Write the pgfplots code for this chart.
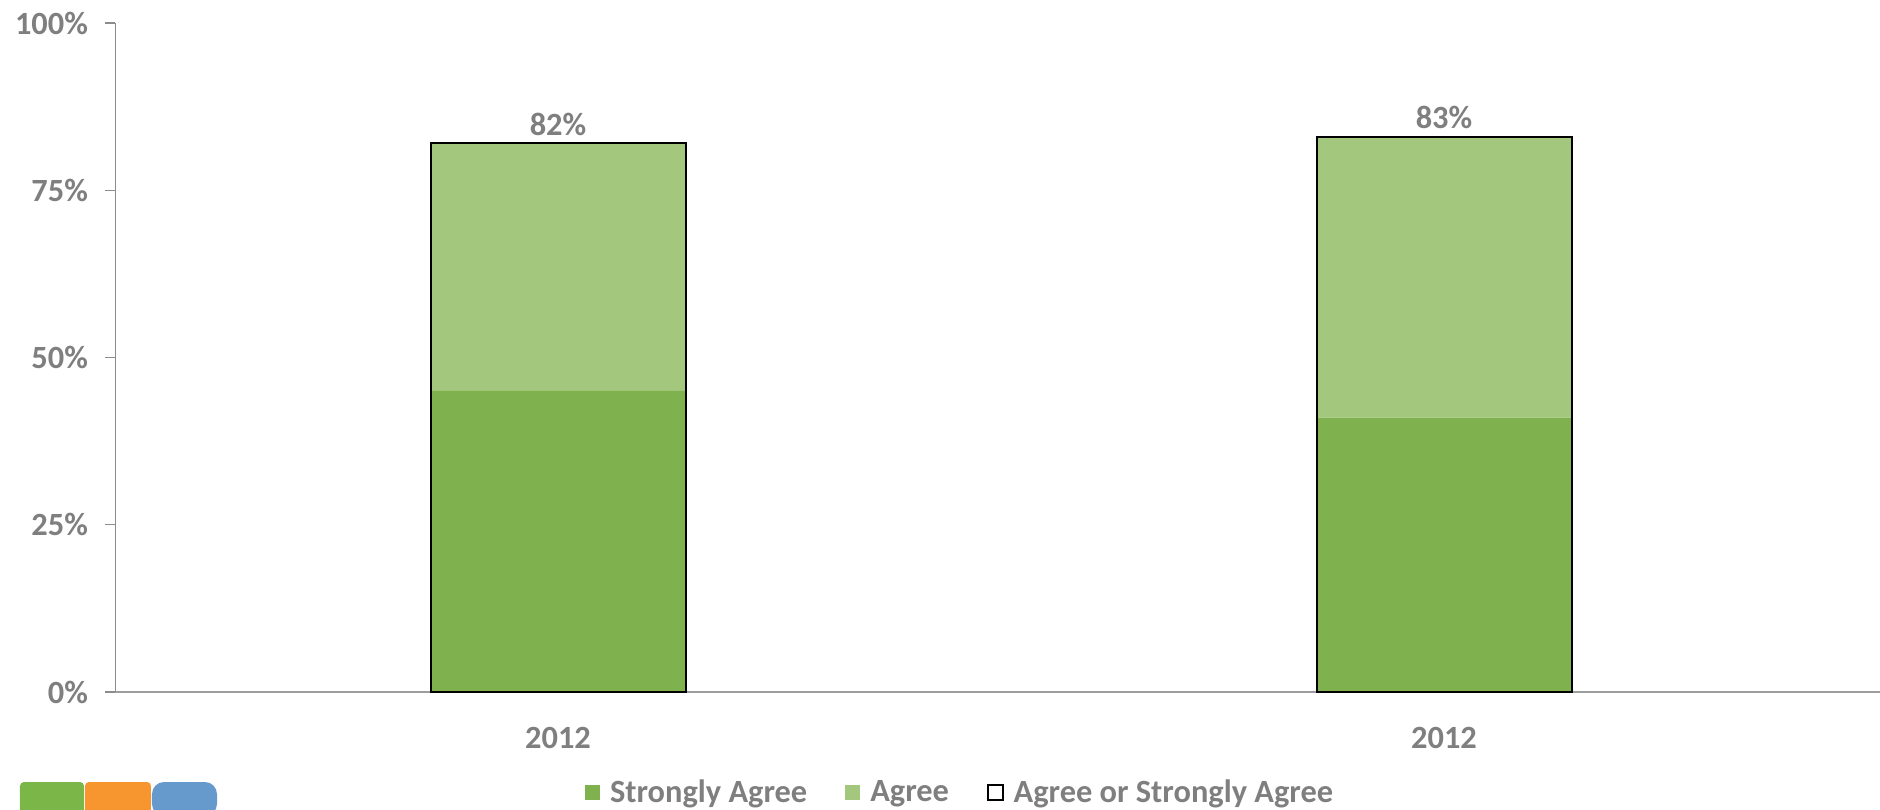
\documentclass[border=0pt]{standalone}
\usepackage{pgfplots}
\pgfplotsset{compat=1.18}
\usepackage{fontspec}
\setmainfont{Carlito}
\definecolor{strong}{HTML}{7FB24E}
\definecolor{agree}{HTML}{A2C77D}
\definecolor{txt}{HTML}{7F7F7F}
\definecolor{axisgray}{HTML}{8C8C8C}
\definecolor{logogreen}{HTML}{7AB648}
\definecolor{logoorange}{HTML}{F7962F}
\definecolor{logoblue}{HTML}{6699CC}

\newcommand{\lbl}{\fontsize{16.2}{19}\selectfont\bfseries}

\pgfplotsset{
  common/.style={
    width=886pt, height=334.5pt, scale only axis,
    at={(0pt,0pt)}, anchor=south west,
    xmin=-0.5, xmax=1.5, ymin=0, ymax=100,
    enlargelimits=false, clip=false,
    bar width=127.5pt,
  },
  sq/.style={legend image code/.code={\path[##1] (0pt,-3.75pt) rectangle (7.5pt,3.75pt);}},
}

\begin{document}
\begin{tikzpicture}
\path[use as bounding box] (-57.5pt,-58.5pt) rectangle (882.5pt,346pt);

% logo (bottom-left corner, partly cut off)
\fill[logogreen, rounded corners=2pt] (-47.5pt,-45pt) rectangle (-15.5pt,-62pt);
\fill[logoorange, rounded corners=2pt] (-15pt,-45pt) rectangle (18pt,-62pt);
\fill[logoblue, rounded corners=6pt] (18.5pt,-45pt) rectangle (51pt,-62pt);

\begin{axis}[
  common,
  ybar stacked,
  axis x line*=bottom, axis y line*=left,
  axis line style={-, axisgray},
  x axis line style={line width=1pt, color=axisgray!85},
  tick align=outside,
  ytick={0,25,50,75,100},
  yticklabel={\pgfmathprintnumber{\tick}\%},
  xtick={0,1}, xticklabels={2012,2012},
  xtick style={draw=none},
  minor xtick={-0.5,0.5,1.5},
  minor tick length=5.5pt, major tick length=5pt,
  every tick/.style={axisgray, line width=0.6pt},
  minor x tick style={axisgray, line width=0.6pt},
  tick label style={font=\lbl, text=txt},
  /pgf/number format/assume math mode=true,
  yticklabel style={xshift=-5pt},
  xticklabel style={yshift=-9pt},
  legend style={
    at={(0.4775,-0.150)}, anchor=center, draw=none, fill=none,
    font=\lbl, text=txt,
    legend columns=3,
    /tikz/every odd column/.append style={column sep=3pt},
    /tikz/every even column/.append style={column sep=17pt},
    legend cell align=left,
  },
  sq,
]
\addplot[fill=strong, draw=none] coordinates {(0,45) (1,41)};
\addlegendentry{Strongly Agree}
\addplot[fill=agree, draw=none] coordinates {(0,37) (1,42)};
\addlegendentry{Agree}
\addlegendimage{fill=white, draw=black, line width=0.8pt}
\addlegendentry{Agree or Strongly Agree}
\end{axis}

\begin{axis}[
  common,
  hide axis,
  ybar, bar shift=0pt,
  nodes near coords={\pgfmathprintnumber{\pgfplotspointmeta}\%},
  nodes near coords style={font=\lbl, text=txt},
  /pgf/number format/assume math mode=true,
]
\addplot[fill=none, draw=black, line width=1pt] coordinates {(0,82) (1,83)};
\end{axis}
\end{tikzpicture}
\end{document}
